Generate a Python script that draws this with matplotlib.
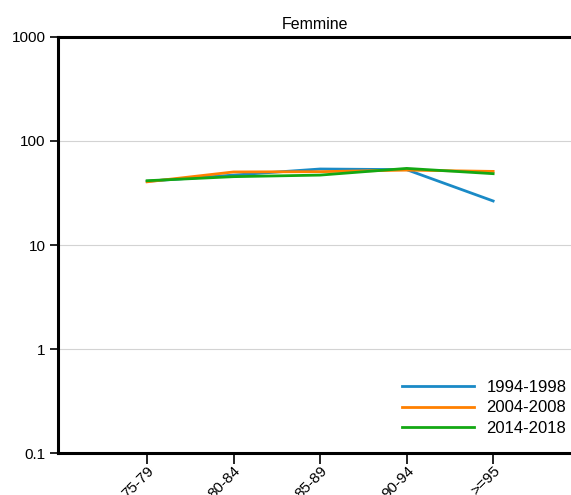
import matplotlib
matplotlib.use('Agg')
import matplotlib.pyplot as plt
from matplotlib.ticker import FixedLocator, FixedFormatter, NullLocator

# ── Data ─────────────────────────────────────────────────────
categories = ['75-79', '80-84', '85-89', '90-94', '>=95']
s_1994 = [41.0, 47.0, 53.8, 53.0, 26.5]
s_2004 = [40.5, 50.4, 50.7, 52.5, 51.0]
s_2014 = [41.5, 45.4, 47.0, 54.5, 48.5]
series_labels = ['1994-1998', '2004-2008', '2014-2018']
yticks = [0.1, 1, 10, 100, 1000]
ytick_labels = ['0.1', '1', '10', '100', '1000']

BLUE = '#1a8ac6'
ORANGE = '#ff8000'
GREEN = '#13a813'

plt.rcParams['font.family'] = ['Liberation Sans', 'DejaVu Sans']

fig = plt.figure(figsize=(5.71, 4.95), dpi=100)
ax = fig.add_axes([0.1016, 0.0848, 0.8984, 0.8405])

x = list(range(len(categories)))
for vals, col, lab in zip([s_1994, s_2004, s_2014], [BLUE, ORANGE, GREEN], series_labels):
    ax.plot(x, vals, color=col, linewidth=2, label=lab)

ax.set_yscale('log')
ax.set_ylim(0.1, 1000)
ax.set_xlim(-1.03, 4.9)
ax.yaxis.set_major_locator(FixedLocator(yticks))
ax.yaxis.set_major_formatter(FixedFormatter(ytick_labels))
ax.yaxis.set_minor_locator(NullLocator())
ax.set_xticks(x)
ax.set_xticklabels(categories, rotation=45, ha='right', rotation_mode='anchor')

ax.grid(axis='y', color='#d3d3d3', linewidth=0.8)
ax.set_axisbelow(True)

for side in ['left', 'top', 'bottom']:
    ax.spines[side].set_linewidth(2.2)
ax.spines['right'].set_visible(False)
ax.tick_params(axis='y', direction='out', length=6, width=1.2, labelsize=11, pad=3)
ax.tick_params(axis='x', direction='out', length=8, width=1.2, labelsize=11, pad=0)

ax.set_title('Femmine', fontsize=11.5, pad=6)

ax.legend(loc='lower right', frameon=False, fontsize=12, handlelength=4.3,
          handletextpad=0.75, labelspacing=0.33, bbox_to_anchor=(1.02, 0.005))

fig.savefig('out.png', dpi=100, facecolor='white')
